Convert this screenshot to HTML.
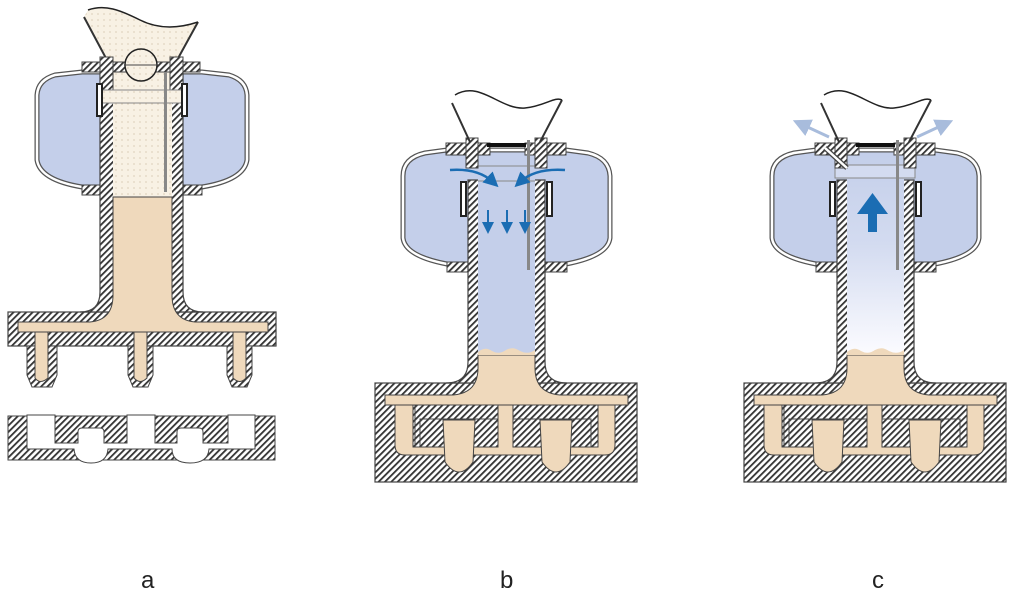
<!DOCTYPE html>
<html><head><meta charset="utf-8"><style>
html,body{margin:0;padding:0;background:#fff;}
svg{display:block}
text{font-family:"Liberation Sans",sans-serif;font-size:24px;fill:#222}
</style></head><body>
<svg width="1024" height="602" viewBox="0 0 1024 602" xmlns="http://www.w3.org/2000/svg">
<defs>
<pattern id="h" patternUnits="userSpaceOnUse" width="4.5" height="4.5" patternTransform="rotate(45)">
<rect width="4.5" height="4.5" fill="#fff"/><rect x="0" y="0" width="1.8" height="4.5" fill="#333"/>
</pattern>
<pattern id="dots" patternUnits="userSpaceOnUse" width="6" height="6">
<rect width="6" height="6" fill="#f8f1e4"/><circle cx="2" cy="2" r="0.6" fill="#c9b99a"/>
</pattern>
<linearGradient id="gc" x1="0" y1="0" x2="0" y2="1">
<stop offset="0" stop-color="#c4cfea"/><stop offset="0.45" stop-color="#d3dbf0"/><stop offset="1" stop-color="#fbfbff"/>
</linearGradient>
<marker id="ab" markerWidth="6" markerHeight="6" refX="3" refY="3" orient="auto"><path d="M0,0 L6,3 L0,6 Z" fill="#1b6db3"/></marker>
<marker id="al" markerWidth="6" markerHeight="6" refX="3" refY="3" orient="auto"><path d="M0,0 L6,3 L0,6 Z" fill="#a8bcdc"/></marker>

<g id="chamberBC">
<path d="M447,150 L425,153 Q403,158 403,176 V238 Q405,256 447,264 H566 Q608,256 610,238 V176 Q609,158 588,153 L566,150 Z" fill="#c4cfea" stroke="#555" stroke-width="5"/>
<path d="M447,150 L425,153 Q403,158 403,176 V238 Q405,256 447,264 H566 Q608,256 610,238 V176 Q609,158 588,153 L566,150 Z" fill="none" stroke="#fff" stroke-width="2.5"/>
<rect x="447" y="262" width="120" height="10" fill="url(#h)" stroke="#444"/>
</g>
<g id="baseBC">
<rect x="375" y="383" width="262" height="99" fill="url(#h)" stroke="#444" stroke-width="1.2"/>
<path d="M468,180 V362 Q468,383 446,383 H567 Q545,383 545,362 V180 Z" fill="url(#h)" stroke="#444" stroke-width="1.2"/>
<path d="M385,395 H453 Q478,393 478,368 V355 H535 V368 Q535,393 560,395 H628 V405 H385 Z" fill="#efd9bc" stroke="#444"/>
<rect x="415" y="405" width="83" height="42" fill="none" stroke="#444"/>
<rect x="420" y="419" width="78" height="28" fill="none" stroke="#444"/>
<rect x="513" y="405" width="85" height="42" fill="none" stroke="#444"/>
<rect x="513" y="419" width="78" height="28" fill="none" stroke="#444"/>
<path d="M395,405 H413 V447 H498 V405 H513 V447 H598 V405 H615 V445 Q615,455 605,455 H405 Q395,455 395,445 Z" fill="#efd9bc" stroke="#444"/>
<path d="M443,420 H475 L473,462 Q459,482 445,462 Z" fill="#efd9bc" stroke="#444"/>
<path d="M540,420 H572 L570,462 Q556,482 542,462 Z" fill="#efd9bc" stroke="#444"/>
</g>
<g id="capBC">
<rect x="446" y="143" width="44" height="12" fill="url(#h)" stroke="#444"/>
<rect x="466" y="138" width="12" height="30" fill="url(#h)" stroke="#444"/>
<rect x="525" y="143" width="41" height="12" fill="url(#h)" stroke="#444"/>
<rect x="535" y="138" width="12" height="30" fill="url(#h)" stroke="#444"/>
<rect x="487" y="143" width="39" height="4" fill="#111"/>
<path d="M452,103 L470,142 M562,100 L540,142" stroke="#333" stroke-width="2" fill="none"/>
<path d="M455,95 C480,80 500,110 525,108 C545,106 555,96 562,100" stroke="#222" stroke-width="1.5" fill="none"/>
<line x1="528.5" y1="140" x2="528.5" y2="270" stroke="#888" stroke-width="3"/>
<path d="M466,182 V216 H461 V182 Z" fill="#fff" stroke="#222" stroke-width="2"/>
<path d="M547,182 V216 H552 V182 Z" fill="#fff" stroke="#222" stroke-width="2"/>
</g>
</defs>

<!-- ===== a ===== -->
<path d="M84,17 L108,62 L176,62 L198,22 C175,30 160,30 140,20 C120,8 100,5 88,10 Z" fill="url(#dots)" stroke="none"/>
<path d="M84,17 L108,62 M198,22 L176,62" stroke="#333" stroke-width="2" fill="none"/>
<path d="M88,10 C105,4 120,10 140,20 C160,30 180,28 198,22" stroke="#222" stroke-width="1.5" fill="none"/>
<path d="M82,72 L55,75 Q38,80 37,95 V160 Q40,180 82,187 H202 Q244,180 247,160 V95 Q246,80 229,75 L202,72 Z" fill="#c4cfea" stroke="#555" stroke-width="5"/>
<path d="M82,72 L55,75 Q38,80 37,95 V160 Q40,180 82,187 H202 Q244,180 247,160 V95 Q246,80 229,75 L202,72 Z" fill="none" stroke="#fff" stroke-width="2.5"/>
<rect x="82" y="185" width="120" height="10" fill="url(#h)" stroke="#444"/>
<rect x="8" y="312" width="268" height="34" fill="url(#h)" stroke="#444" stroke-width="1.2"/>
<path d="M100,72 V292 Q100,312 80,312 H203 Q183,312 183,292 V72 Z" fill="url(#h)" stroke="#444" stroke-width="1.2"/>
<rect x="113" y="72" width="59" height="126" fill="url(#dots)"/>
<path d="M113,197 H172 V295 Q172,320 195,322 H268 V332 H18 V322 H90 Q113,320 113,295 Z" fill="#efd9bc" stroke="#444"/>
<g fill="url(#h)" stroke="#444">
<path d="M27,346 V375 L32,387 H52 L57,375 V346 Z"/>
<path d="M128,346 V375 L133,387 H148 L153,375 V346 Z"/>
<path d="M227,346 V375 L232,387 H247 L252,375 V346 Z"/>
</g>
<g fill="#efd9bc" stroke="#444">
<path d="M35,332 V378 Q40,385 48,378 V332 Z"/>
<path d="M134,332 V378 Q140,385 147,378 V332 Z"/>
<path d="M233,332 V378 Q240,385 246,378 V332 Z"/>
</g>
<rect x="82" y="62" width="118" height="10" fill="url(#h)" stroke="#444"/>
<rect x="100" y="57" width="13" height="38" fill="url(#h)" stroke="#444"/>
<rect x="170" y="57" width="13" height="38" fill="url(#h)" stroke="#444"/>
<rect x="102" y="90" width="80" height="13" fill="url(#dots)" stroke="#888"/>
<circle cx="141" cy="65" r="16" fill="url(#dots)" stroke="#222" stroke-width="1.5"/>
<line x1="124" y1="65" x2="158" y2="65" stroke="#444"/>
<line x1="165.5" y1="72" x2="165.5" y2="192" stroke="#888" stroke-width="3"/>
<path d="M97,84 V116 H102 V84 Z" fill="#fff" stroke="#222" stroke-width="2"/>
<path d="M182,84 V116 H187 V84 Z" fill="#fff" stroke="#222" stroke-width="2"/>
<rect x="8" y="416" width="267" height="44" fill="url(#h)" stroke="#444"/>
<path d="M27,415 H55 V443 H78 V432 Q78,428 82,428 H100 Q104,428 104,432 V443 H127 V415 H155 V443 H177 V432 Q177,428 181,428 H199 Q203,428 203,432 V443 H228 V415 H255 V449 H209 Q208,463 190,463 Q172,463 172,449 H108 Q107,463 91,463 Q75,463 74,449 H27 Z" fill="#fff" stroke="#444"/>

<!-- ===== b ===== -->
<use href="#chamberBC"/>
<use href="#baseBC"/>
<rect x="478" y="155" width="57" height="198" fill="#c4cfea"/>
<path d="M478,355 V352 Q485,346 492,351 Q499,355 506,350 Q513,346 520,351 Q528,355 535,350 V355 Z" fill="#efd9bc"/>
<line x1="478" y1="166" x2="535" y2="166" stroke="#888"/>
<line x1="478" y1="181" x2="535" y2="181" stroke="#888"/>
<use href="#capBC"/>
<path d="M450,170 Q478,168 493,182" stroke="#1b6db3" stroke-width="2.5" fill="none" marker-end="url(#ab)"/>
<path d="M565,170 Q535,168 520,182" stroke="#1b6db3" stroke-width="2.5" fill="none" marker-end="url(#ab)"/>
<g stroke="#1b6db3" stroke-width="2" marker-end="url(#ab)">
<line x1="488" y1="210" x2="488" y2="228"/>
<line x1="507" y1="210" x2="507" y2="228"/>
<line x1="525" y1="210" x2="525" y2="228"/>
</g>

<!-- ===== c ===== -->
<g transform="translate(369,0)">
<use href="#chamberBC"/>
<use href="#baseBC"/>
<rect x="478" y="155" width="57" height="198" fill="url(#gc)"/>
<path d="M478,355 V352 Q485,346 492,351 Q499,355 506,350 Q513,346 520,351 Q528,355 535,350 V355 Z" fill="#efd9bc"/>
<rect x="466" y="165" width="80" height="13" fill="#d3dbf0" stroke="#888"/>
<use href="#capBC"/>
<path d="M456,148 L478,168" stroke="#444" stroke-width="5"/>
<path d="M456,148 L478,168" stroke="#fff" stroke-width="2.5"/>
<path d="M488,214 L499,214 L499,232 L508,232 L508,214 L519,214 L503.5,193 Z" fill="#1b6db3"/>
<path d="M460,137 L432,124" stroke="#a8bcdc" stroke-width="3" marker-end="url(#al)"/>
<path d="M548,137 L576,124" stroke="#a8bcdc" stroke-width="3" marker-end="url(#al)"/>
</g>

<text x="141" y="588">a</text>
<text x="500" y="588">b</text>
<text x="872" y="588">c</text>
</svg>
</body></html>
